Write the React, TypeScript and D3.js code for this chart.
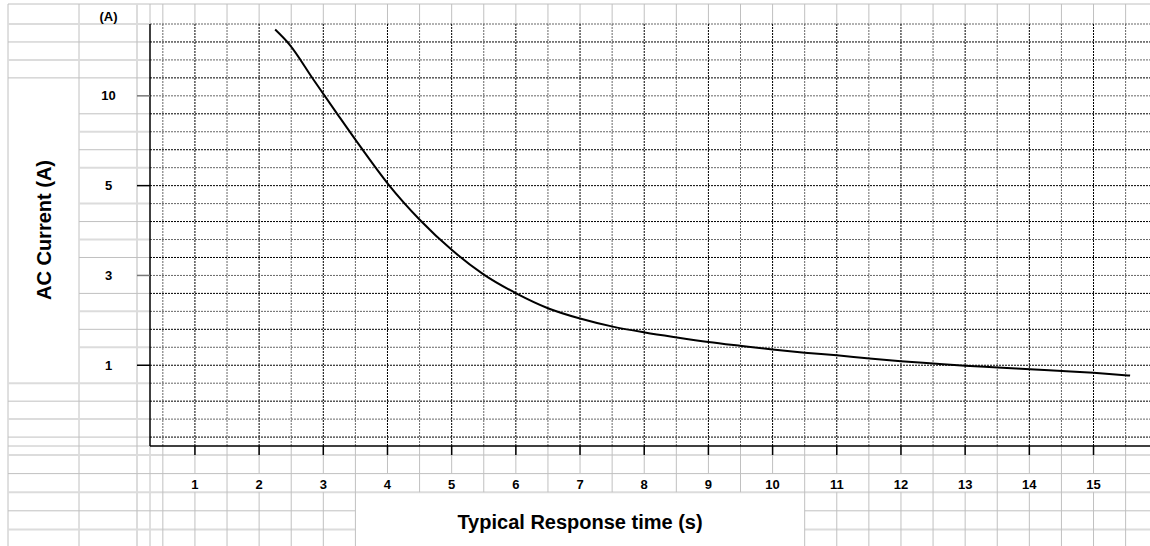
import React from 'react'
import * as d3 from 'd3'

// chart values
const xTicks = [1, 2, 3, 4, 5, 6, 7, 8, 9, 10, 11, 12, 13, 14, 15]
const yTicks = [1, 3, 5, 10]
const timeS = [2.25, 2.48, 2.84, 3.23, 3.57, 4.01, 4.51, 5.0, 5.49, 6.02, 6.5, 7.0, 7.51, 8.01, 8.51, 9.0, 9.52, 10.0, 10.5, 11.0, 11.51, 12.0, 12.5, 13.0, 13.51, 14.01, 14.51, 15.0, 15.57]
const currentA = [13.69, 12.83, 10.94, 8.93, 7.21, 5.09, 4.23, 3.57, 3.03, 2.59, 2.27, 2.04, 1.86, 1.73, 1.62, 1.52, 1.43, 1.35, 1.28, 1.22, 1.15, 1.09, 1.04, 0.99, 0.95, 0.91, 0.87, 0.83, 0.77]

const width = 1150
const height = 546
const plotLeft = 150
const plotRight = 1150
const plotTop = 24
const plotBottom = 446
const rowPitch = 17.96
const rowCount = 24
const tMin = 0.3
const tMax = 15.88

const gridGrey = '#c0c0c0'
const gridLight = '#dcdcdc'
const font = '"Liberation Sans", Arial, sans-serif'

const rowY = (k: number) => plotTop + k * rowPitch
// each labelled value sits 5 dotted rows above the previous one
const tickRows = yTicks.map((_, i) => 19 - 5 * i)

const x = d3.scaleLinear().domain([tMin, tMax]).range([plotLeft, plotRight])
const y = d3.scaleLinear().domain(yTicks).range(tickRows.map(rowY))

const columns = d3.range(0.5, 16, 0.5)
const bottomRows = d3.range(5).map(i => plotBottom + 9 + i * 18.6)

const isLight = (k: number) => ((k % 5) + Math.floor(k / 5)) % 2 === 0

const App = () => {
    const pts: [number, number][] = timeS.map((t, i) => [t, currentA[i]])
    const line = d3.line<[number, number]>()
        .x(d => x(d[0]))
        .y(d => y(d[1]))
        .curve(d3.curveMonotoneX)

    const titleCellL = x(3.5)
    const titleCellR = x(10.5)
    const labelRowTop = bottomRows[1]
    const labelRowBottom = bottomRows[2]

    const sheetLines: JSX.Element[] = []
    // outer border of the sheet
    sheetLines.push(<line key="top" x1={8} y1={4} x2={width} y2={4} stroke={gridGrey} />)
    ;[8, 79].forEach(cx => sheetLines.push(<line key={`v${cx}`} x1={cx} y1={4} x2={cx} y2={height} stroke={gridGrey} />))
    sheetLines.push(<line key="v137" x1={137} y1={4} x2={137} y2={height} stroke={gridLight} strokeWidth={2} />)
    sheetLines.push(<line key="v150a" x1={plotLeft} y1={4} x2={plotLeft} y2={plotTop} stroke={gridGrey} />)
    sheetLines.push(<line key="v150b" x1={plotLeft} y1={plotBottom} x2={plotLeft} y2={height} stroke={gridGrey} />)

    // rows of the left margin
    d3.range(rowCount).forEach(k => {
        const yy = rowY(k)
        const st = isLight(k) ? { stroke: gridLight, strokeWidth: 2 } : { stroke: gridGrey, strokeWidth: 1 }
        if (k < 4 || k > 19) sheetLines.push(<line key={`lr${k}a`} x1={8} y1={yy} x2={79} y2={yy} {...st} />)
        if (!tickRows.includes(k)) sheetLines.push(<line key={`lr${k}b`} x1={79} y1={yy} x2={plotLeft} y2={yy} {...st} />)
    })
    sheetLines.push(<line key="lr446" x1={8} y1={plotBottom} x2={plotLeft} y2={plotBottom} stroke={gridGrey} />)

    // rows under the plot
    bottomRows.forEach((yy, i) => {
        const st = i % 2 === 0 ? { stroke: gridLight, strokeWidth: 2 } : { stroke: gridGrey, strokeWidth: 1 }
        if (yy < labelRowBottom + 5) {
            sheetLines.push(<line key={`br${i}`} x1={8} y1={yy} x2={width} y2={yy} {...st} />)
        } else {
            sheetLines.push(<line key={`br${i}a`} x1={8} y1={yy} x2={titleCellL} y2={yy} {...st} />)
            sheetLines.push(<line key={`br${i}b`} x1={titleCellR} y1={yy} x2={width} y2={yy} {...st} />)
        }
    })

    // columns in the top strip and under the plot
    columns.forEach(c => {
        const cx = x(c)
        const integer = Number.isInteger(c)
        sheetLines.push(<line key={`ct${c}`} x1={cx} y1={4} x2={cx} y2={plotTop} stroke={gridGrey} />)
        const segs: [number, number][] = []
        if (integer) {
            segs.push([plotBottom, labelRowTop])
            segs.push([labelRowBottom, height])
        } else {
            segs.push([plotBottom, height])
        }
        segs.forEach(([a, b], j) => {
            if (cx > titleCellL + 1 && cx < titleCellR - 1 && b > labelRowBottom) {
                b = labelRowBottom
                if (a >= b) return
            }
            sheetLines.push(<line key={`cb${c}_${j}`} x1={cx} y1={a} x2={cx} y2={b} stroke={gridGrey} />)
        })
    })

    return (
        <svg width={width} height={height} style={{ position: 'absolute', left: 0, top: 0, display: 'block' }}>
            <rect width={width} height={height} fill="white" />
            <g>{sheetLines}</g>

            {/* dotted grid inside the plot */}
            <g strokeDasharray="2,1" strokeWidth={1}>
                {d3.range(rowCount).map(k => (
                    <line key={`h${k}`} x1={plotLeft} y1={rowY(k)} x2={plotRight} y2={rowY(k)}
                          stroke={k % 2 === 0 ? '#666' : '#000'} />
                ))}
                {columns.map(c => (
                    <line key={`v${c}`} x1={x(c)} y1={plotTop} x2={x(c)} y2={plotBottom}
                          stroke={Number.isInteger(c) ? '#000' : '#666'} />
                ))}
            </g>

            {/* axes */}
            <line x1={plotLeft} y1={plotTop} x2={plotLeft} y2={plotBottom} stroke="#000" strokeWidth={1.5} />
            <line x1={plotLeft} y1={plotBottom} x2={plotRight} y2={plotBottom} stroke="#000" strokeWidth={1.5} />

            {yTicks.map((v, i) => (
                <g key={`yt${v}`}>
                    <line x1={137} y1={y(v)} x2={plotLeft} y2={y(v)} stroke={i % 2 === 0 ? '#000' : '#777'} strokeWidth={1.5} />
                    <text x={108.5} y={y(v) + 4.5} textAnchor="middle" fontFamily={font} fontWeight="bold" fontSize={13}>{v}</text>
                </g>
            ))}
            <text x={108.5} y={21} textAnchor="middle" fontFamily={font} fontWeight="bold" fontSize={13}>(A)</text>

            {xTicks.map(v => (
                <g key={`xt${v}`}>
                    <line x1={x(v)} y1={plotBottom} x2={x(v)} y2={plotBottom + 9} stroke="#000" strokeWidth={1.5} />
                    <text x={x(v)} y={488.5} textAnchor="middle" fontFamily={font} fontWeight="bold" fontSize={13}>{v}</text>
                </g>
            ))}

            <path d={line(pts) ?? ''} fill="none" stroke="#000" strokeWidth={2} />

            <text transform="translate(51,230) rotate(-90)" textAnchor="middle" fontFamily={font} fontWeight="bold" fontSize={20}>AC Current (A)</text>
            <text x={(titleCellL + titleCellR) / 2} y={529} textAnchor="middle" fontFamily={font} fontWeight="bold" fontSize={20}>Typical Response time (s)</text>
        </svg>
    )
}

export default App
